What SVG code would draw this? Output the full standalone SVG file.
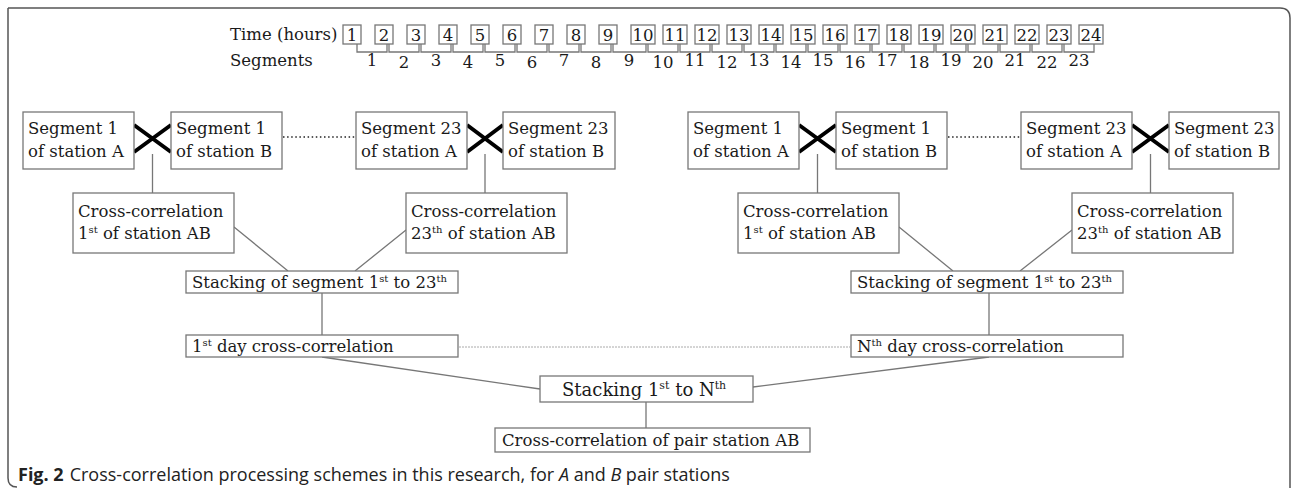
<svg xmlns="http://www.w3.org/2000/svg" width="1293" height="488" viewBox="0 0 1293 488">
<style>
.box{fill:#fff;stroke:#777;stroke-width:1.3}
.t{font-family:"DejaVu Serif","Liberation Serif",serif;font-size:16.5px;fill:#1a1a1a}
.tc{text-anchor:middle}
.sup{font-size:10px}
.x{stroke:#000;stroke-width:4;stroke-linecap:butt}
.ln{stroke:#777;stroke-width:1.3;fill:none}
.dot{stroke:#222;stroke-width:1.6;stroke-dasharray:1.5 2.6;fill:none}
.gdot{stroke:#aaa;stroke-width:1;stroke-dasharray:2 1;fill:none}
.frame{stroke:#555;stroke-width:1.5;fill:none}
.cap{font-family:"Open Sans","Noto Sans",sans-serif;font-size:18px;fill:#222}
</style>
<path class="frame" d="M8 8 H1280 Q1290 8 1290 18 V488 M8 8 V478 Q8 487 17 487"/>

<g id="timeline">
<text class="t" x="230" y="40">Time (hours)</text>
<text class="t" x="230" y="66">Segments</text>
<g class="box">
<rect x="343" y="25" width="18" height="19"/><rect x="375" y="25" width="18" height="19"/><rect x="407" y="25" width="18" height="19"/><rect x="439" y="25" width="18" height="19"/><rect x="471" y="25" width="18" height="19"/><rect x="503" y="25" width="18" height="19"/><rect x="535" y="25" width="18" height="19"/><rect x="567" y="25" width="18" height="19"/><rect x="599" y="25" width="18" height="19"/>
<rect x="631" y="25" width="24" height="19"/><rect x="663" y="25" width="24" height="19"/><rect x="695" y="25" width="24" height="19"/><rect x="727" y="25" width="24" height="19"/><rect x="759" y="25" width="24" height="19"/><rect x="791" y="25" width="24" height="19"/><rect x="823" y="25" width="24" height="19"/><rect x="855" y="25" width="24" height="19"/><rect x="887" y="25" width="24" height="19"/><rect x="919" y="25" width="24" height="19"/><rect x="951" y="25" width="24" height="19"/><rect x="983" y="25" width="24" height="19"/><rect x="1015" y="25" width="24" height="19"/><rect x="1047" y="25" width="24" height="19"/><rect x="1079" y="25" width="24" height="19"/>
</g>
<g class="t tc">
<text x="352" y="41">1</text><text x="384" y="41">2</text><text x="416" y="41">3</text><text x="448" y="41">4</text><text x="480" y="41">5</text><text x="512" y="41">6</text><text x="544" y="41">7</text><text x="576" y="41">8</text><text x="608" y="41">9</text><text x="643" y="41">10</text><text x="675" y="41">11</text><text x="707" y="41">12</text><text x="739" y="41">13</text><text x="771" y="41">14</text><text x="803" y="41">15</text><text x="835" y="41">16</text><text x="867" y="41">17</text><text x="899" y="41">18</text><text x="931" y="41">19</text><text x="963" y="41">20</text><text x="995" y="41">21</text><text x="1027" y="41">22</text><text x="1059" y="41">23</text><text x="1091" y="41">24</text>
</g>
<path class="ln" d="M357 44V52H387V44M389 44V52H419V44M421 44V52H451V44M453 44V52H483V44M485 44V52H515V44M517 44V52H547V44M549 44V52H579V44M581 44V52H611V44M613 44V52H646V44M648 44V52H678V44M680 44V52H710V44M712 44V52H742V44M744 44V52H774V44M776 44V52H806V44M808 44V52H838V44M840 44V52H870V44M872 44V52H902V44M904 44V52H934V44M936 44V52H966V44M968 44V52H998V44M1000 44V52H1030V44M1032 44V52H1062V44M1064 44V52H1094V44"/>
<g class="t tc">
<text x="372" y="66">1</text><text x="404" y="68">2</text><text x="436" y="66">3</text><text x="468" y="68">4</text><text x="500" y="66">5</text><text x="532" y="68">6</text><text x="564" y="66">7</text><text x="596" y="68">8</text><text x="629" y="66">9</text><text x="663" y="68">10</text><text x="695" y="66">11</text><text x="727" y="68">12</text><text x="759" y="66">13</text><text x="791" y="68">14</text><text x="823" y="66">15</text><text x="855" y="68">16</text><text x="887" y="66">17</text><text x="919" y="68">18</text><text x="951" y="66">19</text><text x="983" y="68">20</text><text x="1015" y="66">21</text><text x="1047" y="68">22</text><text x="1079" y="66">23</text>
</g>
</g>

<g id="connectors">
<path class="x" d="M134 125L171 152M134 152L171 125M467 125L503 152M467 152L503 125M799 125L836 152M799 152L836 125M1132 125L1169 152M1132 152L1169 125"/>
<path class="dot" d="M283 137H355M948 137H1020"/>
<path class="ln" d="M152.5 154V193M485 154V193M817.5 154V193M1150.5 154V193"/>
<path class="ln" d="M234 227L288 271M406 230L355 271M899 227L953 271M1072 230L1020 271"/>
<path class="ln" d="M322 293V335M989 293V335"/>
<path class="gdot" d="M459 347H850"/>
<path class="ln" d="M322 357L540 389M989 357L753 387M646 402V428"/>
</g>

<g id="segA1a"><rect class="box" x="23" y="112" width="111" height="57"/><text class="t" x="28" y="134">Segment 1</text><text class="t" x="28" y="157">of station A</text></g>
<g id="segA1b"><rect class="box" x="171" y="112" width="111" height="57"/><text class="t" x="176" y="134">Segment 1</text><text class="t" x="176" y="157">of station B</text></g>
<g id="segA23a"><rect class="box" x="356" y="112" width="111" height="57"/><text class="t" x="361" y="134">Segment 23</text><text class="t" x="361" y="157">of station A</text></g>
<g id="segA23b"><rect class="box" x="503" y="112" width="112" height="57"/><text class="t" x="508" y="134">Segment 23</text><text class="t" x="508" y="157">of station B</text></g>
<g id="segB1a"><rect class="box" x="688" y="112" width="111" height="57"/><text class="t" x="693" y="134">Segment 1</text><text class="t" x="693" y="157">of station A</text></g>
<g id="segB1b"><rect class="box" x="836" y="112" width="111" height="57"/><text class="t" x="841" y="134">Segment 1</text><text class="t" x="841" y="157">of station B</text></g>
<g id="segB23a"><rect class="box" x="1021" y="112" width="111" height="57"/><text class="t" x="1026" y="134">Segment 23</text><text class="t" x="1026" y="157">of station A</text></g>
<g id="segB23b"><rect class="box" x="1169" y="112" width="110" height="57"/><text class="t" x="1174" y="134">Segment 23</text><text class="t" x="1174" y="157">of station B</text></g>

<g id="ccA1"><rect class="box" x="73" y="193" width="161" height="60"/><text class="t" x="78" y="217">Cross-correlation</text><text class="t" x="78" y="239">1<tspan class="sup" dy="-6">st</tspan><tspan dy="6"> of station AB</tspan></text></g>
<g id="ccA23"><rect class="box" x="406" y="193" width="161" height="60"/><text class="t" x="411" y="217">Cross-correlation</text><text class="t" x="411" y="239">23<tspan class="sup" dy="-6">th</tspan><tspan dy="6"> of station AB</tspan></text></g>
<g id="ccB1"><rect class="box" x="738" y="193" width="161" height="60"/><text class="t" x="743" y="217">Cross-correlation</text><text class="t" x="743" y="239">1<tspan class="sup" dy="-6">st</tspan><tspan dy="6"> of station AB</tspan></text></g>
<g id="ccB23"><rect class="box" x="1072" y="193" width="161" height="60"/><text class="t" x="1077" y="217">Cross-correlation</text><text class="t" x="1077" y="239">23<tspan class="sup" dy="-6">th</tspan><tspan dy="6"> of station AB</tspan></text></g>

<g id="stackA"><rect class="box" x="186" y="271" width="272" height="22"/><text class="t" x="192" y="288">Stacking of segment 1<tspan class="sup" dy="-6">st</tspan><tspan dy="6"> to 23</tspan><tspan class="sup" dy="-6">th</tspan></text></g>
<g id="stackB"><rect class="box" x="851" y="271" width="272" height="22"/><text class="t" x="857" y="288">Stacking of segment 1<tspan class="sup" dy="-6">st</tspan><tspan dy="6"> to 23</tspan><tspan class="sup" dy="-6">th</tspan></text></g>

<g id="day1"><rect class="box" x="186" y="335" width="272" height="22"/><text class="t" x="192" y="352">1<tspan class="sup" dy="-6">st</tspan><tspan dy="6"> day cross-correlation</tspan></text></g>
<g id="dayN"><rect class="box" x="851" y="335" width="272" height="22"/><text class="t" x="857" y="352">N<tspan class="sup" dy="-6">th</tspan><tspan dy="6"> day cross-correlation</tspan></text></g>

<g id="stackN"><rect class="box" x="540" y="376" width="213" height="26"/><text class="t" x="562" y="396" style="font-size:18px">Stacking 1<tspan class="sup" style="font-size:11px" dy="-7">st</tspan><tspan dy="7"> to N</tspan><tspan class="sup" style="font-size:11px" dy="-7">th</tspan></text></g>

<g id="final"><rect class="box" x="495" y="428" width="315" height="24"/><text class="t" x="502" y="446">Cross-correlation of pair station AB</text></g>

<text class="cap" x="18" y="481"><tspan font-weight="bold">Fig. 2</tspan><tspan dx="6">Cross-correlation processing schemes in this research, for </tspan><tspan font-style="italic">A</tspan> and <tspan font-style="italic">B</tspan> pair stations</text>
</svg>
